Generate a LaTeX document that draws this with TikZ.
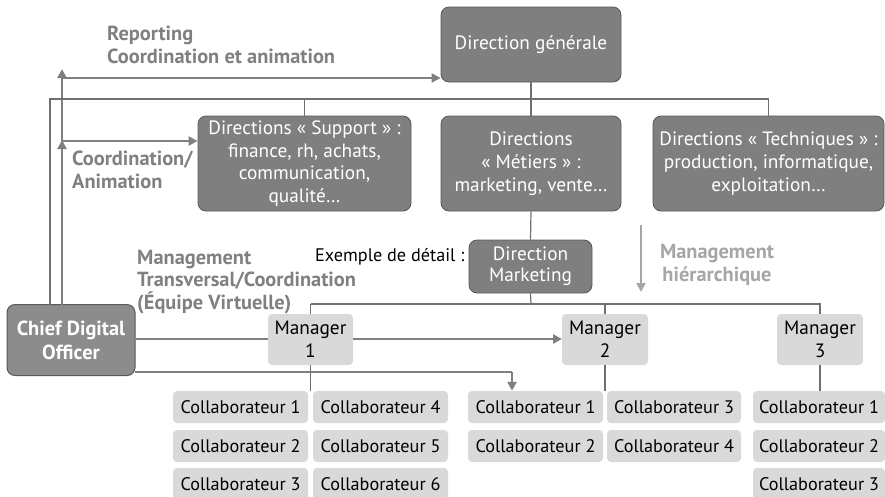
\documentclass[tikz,border=0pt]{standalone}
\usepackage{fontspec}
\setmainfont{PT Sans}
\usetikzlibrary{arrows.meta}
\definecolor{darkbox}{HTML}{7F7F7F}
\definecolor{darkline}{HTML}{595959}
\definecolor{cdofill}{HTML}{8C8C8C}
\definecolor{lightbox}{HTML}{D9D9D9}
\definecolor{conn}{HTML}{6F6F6F}
\definecolor{arrowc}{HTML}{808080}
\definecolor{lightlab}{HTML}{A6A6A6}
\tikzset{
  darkbox/.style={draw=darkline, line width=0.8pt, fill=darkbox, rounded corners=8pt, text=white, align=center, inner sep=0pt, font=\fontsize{19.3}{22.8}\selectfont},
  cdobox/.style={draw=darkline, line width=1pt, fill=cdofill, rounded corners=8pt, text=white, align=center, inner sep=0pt, font=\fontsize{20.4}{24}\selectfont\bfseries},
  lightbox/.style={fill=lightbox, rounded corners=4pt, align=center, inner sep=0pt, font=\fontsize{19.3}{23}\selectfont},
  collab/.style={lightbox, minimum width=135pt, minimum height=32pt, font=\fontsize{18.2}{20}\selectfont},
  conn/.style={draw=conn, line width=1.2pt},
  bigarrow/.style={draw=arrowc, line width=2.8pt, -{Triangle[length=9pt,width=9pt]}},
  graylab/.style={text=arrowc, font=\fontsize{20.4}{22.8}\selectfont\bfseries, anchor=west, inner sep=0pt, align=left},
}
\begin{document}
\begin{tikzpicture}[x=1pt,y=-1pt]
\useasboundingbox (0,0) rectangle (885,496);
% coordinates for free arrow ends
\coordinate (cdoA) at (62,305);
\coordinate (up1) at (62,69);
\coordinate (up2) at (62,140);
\coordinate (h1) at (62,78);
\coordinate (h2) at (62,141);
\coordinate (cdoR1) at (135,339);
\coordinate (cdoR2) at (135,372);
\coordinate (bend) at (512,372);
% nodes
\node[darkbox, minimum width=180pt, minimum height=75pt] (dg) at (531,44.5) {Direction générale};
\node[darkbox, minimum width=213pt, minimum height=95pt] (sup) at (304.5,163.5) {Directions « Support » :\\finance, rh, achats,\\communication,\\qualité…};
\node[darkbox, minimum width=180pt, minimum height=95pt] (met) at (531,163.5) {Directions\\« Métiers » :\\marketing, vente…};
\node[darkbox, minimum width=231pt, minimum height=95pt] (tec) at (768.5,163.5) {Directions « Techniques » :\\production, informatique,\\exploitation…};
\node[darkbox, minimum width=123pt, minimum height=53pt, font=\fontsize{19.3}{21}\selectfont] (dm) at (530.5,266.5) {Direction\\Marketing};
\node[cdobox, minimum width=128pt, minimum height=71pt] (cdo) at (71,340) {Chief Digital\\Officer};
% big arrows behind boxes
\draw[bigarrow] (cdoA) -- (up2);
\draw[bigarrow] (cdoA) -- (up1);
\draw[bigarrow] (h1) -- (dg.west |- h1);
\draw[bigarrow] (h2) -- (sup.west |- h2);
\draw[bigarrow] (cdoR1) -- (562,339) coordinate (m2in);
\draw[bigarrow, -] (cdoR2) -- (bend);
% manager boxes
\node[lightbox, minimum width=85pt, minimum height=51pt] (m1) at (310.5,339.5) {Manager\\1};
\node[lightbox, minimum width=86pt, minimum height=51pt] (m2) at (605,339.5) {Manager\\2};
\node[lightbox, minimum width=86pt, minimum height=51pt] (m3) at (820,339.5) {Manager\\3};
% collaborators
\node[collab] (a1) at (240.5,407) {Collaborateur 1};
\node[collab] (a2) at (240.5,446) {Collaborateur 2};
\node[collab] (a3) at (240.5,484) {Collaborateur 3};
\node[collab] (a4) at (380.5,407) {Collaborateur 4};
\node[collab] (a5) at (380.5,446) {Collaborateur 5};
\node[collab] (a6) at (380.5,484) {Collaborateur 6};
\node[collab] (b1) at (535.5,407) {Collaborateur 1};
\node[collab] (b2) at (535.5,446) {Collaborateur 2};
\node[collab, minimum width=134pt] (b3) at (674,407) {Collaborateur 3};
\node[collab, minimum width=134pt] (b4) at (674,446) {Collaborateur 4};
\node[collab, minimum width=132pt] (c1) at (819,407) {Collaborateur 1};
\node[collab, minimum width=132pt] (c2) at (819,446) {Collaborateur 2};
\node[collab, minimum width=132pt] (c3) at (819,484) {Collaborateur 3};
\draw[bigarrow] (bend) -- (bend |- b1.north);
% thin org connectors
\coordinate (tl) at (50,99);
\draw[conn] (50,305) -- (tl) -- (tec.north |- tl) -- (tec.north);
\draw[conn] (dg.south) -- (met.north);
\draw[conn] (sup.north |- tl) -- (sup.north);
\draw[conn] (met.south) -- (dm.north);
\coordinate (ml) at (531,304);
\draw[conn] (dm.south) -- (ml);
\draw[conn] (m1.north |- ml) -- (m3.north |- ml) -- (m3.north);
\draw[conn] (m1.north |- ml) -- (m1.north);
\draw[conn] (m2.north |- ml) -- (m2.north);
\draw[conn] (m1.south) -- (m1.south |- a1.north);
\draw[conn] (m2.south) -- (m2.south |- b1.north);
\draw[conn] (m3.south) -- (m3.south |- c1.north);
% hierarchical arrow
\coordinate (hA) at (641,225);
\coordinate (hB) at (641,292);
\draw[draw=lightlab, line width=2pt, -{Triangle[length=9pt,width=9pt]}] (hA) -- (hB);
% labels
\node[graylab] (lrep) at (107,45) {Reporting\\Coordination et animation};
\node[graylab] (lcoo) at (72,169.5) {Coordination/\\Animation};
\node[graylab] (lman) at (137,282) {Management\\Transversal/Coordination\\(Équipe Virtuelle)};
\node[graylab, text=lightlab, align=center, anchor=center] (lhie) at (717,264.5) {Management\\hiérarchique};
\node[anchor=west, inner sep=0pt, font=\fontsize{18.2}{20}\selectfont] (lex) at (315,257) {Exemple de détail :};
\end{tikzpicture}
\end{document}
